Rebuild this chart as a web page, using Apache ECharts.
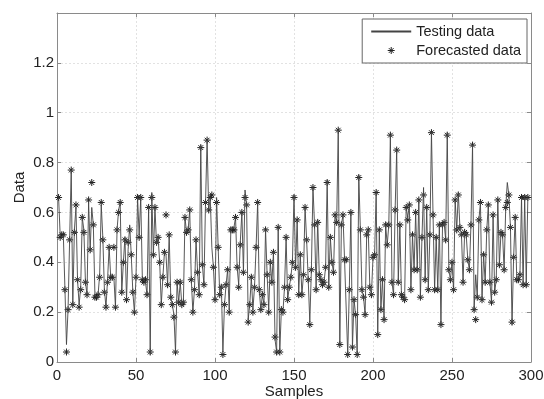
<!DOCTYPE html>
<html><head><meta charset="utf-8">
<script src="https://cdn.jsdelivr.net/npm/echarts@6/dist/echarts.min.js"></script>
<style>html,body{margin:0;padding:0;background:#fff}#c{width:544px;height:399px}</style>
</head><body><div id="c"></div>
<script>
const testing = [
0.66,0.51,0.50,0.51,0.30,0.07,0.21,0.49,0.77,0.23,
0.53,0.62,0.33,0.23,0.30,0.58,0.53,0.32,0.27,0.64,
0.45,0.62,0.55,0.27,0.26,0.27,0.35,0.63,0.50,0.29,
0.22,0.33,0.46,0.34,0.35,0.34,0.22,0.53,0.61,0.64,
0.28,0.40,0.50,0.25,0.45,0.55,0.43,0.28,0.20,0.34,
0.66,0.51,0.66,0.34,0.33,0.32,0.27,0.62,0.03,0.68,
0.43,0.62,0.47,0.50,0.40,0.23,0.34,0.44,0.43,0.31,
0.51,0.26,0.23,0.19,0.04,0.32,0.24,0.32,0.23,0.24,
0.58,0.52,0.53,0.61,0.33,0.20,0.29,0.49,0.36,0.27,
0.87,0.39,0.31,0.64,0.89,0.61,0.66,0.46,0.38,0.25,
0.66,0.46,0.27,0.31,0.04,0.23,0.31,0.37,0.21,0.53,
0.53,0.54,0.58,0.38,0.31,0.48,0.60,0.36,0.69,0.63,
0.17,0.23,0.34,0.21,0.30,0.46,0.64,0.29,0.21,0.27,
0.23,0.53,0.35,0.21,0.40,0.32,0.44,0.09,0.04,0.54,
0.04,0.21,0.20,0.30,0.50,0.25,0.30,0.34,0.40,0.67,
0.38,0.57,0.28,0.43,0.27,0.35,0.62,0.49,0.33,0.16,
0.37,0.70,0.55,0.29,0.57,0.35,0.33,0.31,0.32,0.38,
0.73,0.30,0.50,0.40,0.36,0.59,0.56,0.93,0.07,0.55,
0.59,0.41,0.41,0.03,0.29,0.60,0.06,0.25,0.19,0.03,
0.75,0.53,0.29,0.26,0.19,0.51,0.53,0.30,0.27,0.42,
0.43,0.68,0.11,0.53,0.21,0.33,0.17,0.55,0.47,0.55,
0.91,0.32,0.27,0.61,0.85,0.32,0.55,0.27,0.26,0.25,
0.62,0.58,0.63,0.29,0.51,0.37,0.60,0.37,0.65,0.26,
0.50,0.70,0.33,0.62,0.29,0.51,0.92,0.59,0.29,0.50,
0.29,0.55,0.15,0.55,0.56,0.49,0.92,0.37,0.33,0.40,
0.29,0.65,0.53,0.68,0.54,0.51,0.32,0.52,0.51,0.41,
0.37,0.55,0.87,0.21,0.35,0.26,0.57,0.64,0.25,0.43,
0.32,0.53,0.63,0.32,0.24,0.59,0.28,0.33,0.65,0.39,
0.52,0.51,0.37,0.62,0.72,0.67,0.54,0.15,0.42,0.58,
0.33,0.33,0.35,0.66,0.31,0.66,0.32,0.66
];
const forecasted = [
0.66,0.50,0.51,0.51,0.29,0.04,0.21,0.49,0.77,0.23,
0.52,0.63,0.33,0.22,0.29,0.58,0.52,0.32,0.27,0.65,
0.45,0.72,0.55,0.26,0.26,0.27,0.34,0.64,0.49,0.28,
0.22,0.32,0.46,0.34,0.34,0.46,0.22,0.53,0.60,0.64,
0.28,0.40,0.49,0.25,0.48,0.53,0.43,0.28,0.20,0.34,
0.66,0.50,0.66,0.33,0.32,0.33,0.27,0.62,0.04,0.66,
0.43,0.62,0.48,0.50,0.40,0.23,0.34,0.44,0.59,0.31,
0.51,0.26,0.23,0.18,0.04,0.32,0.24,0.32,0.23,0.24,
0.58,0.52,0.53,0.61,0.33,0.20,0.29,0.49,0.36,0.27,
0.86,0.39,0.31,0.64,0.89,0.61,0.66,0.67,0.38,0.25,
0.64,0.46,0.27,0.30,0.03,0.23,0.31,0.37,0.20,0.53,
0.53,0.53,0.58,0.38,0.30,0.47,0.60,0.36,0.66,0.63,
0.16,0.23,0.34,0.20,0.30,0.46,0.64,0.29,0.21,0.27,
0.23,0.53,0.35,0.20,0.40,0.32,0.44,0.10,0.04,0.54,
0.04,0.21,0.20,0.30,0.50,0.25,0.30,0.34,0.40,0.66,
0.38,0.57,0.27,0.43,0.27,0.35,0.62,0.49,0.33,0.15,
0.37,0.70,0.55,0.29,0.56,0.35,0.33,0.31,0.32,0.38,
0.72,0.30,0.50,0.40,0.36,0.59,0.56,0.93,0.07,0.55,
0.59,0.41,0.41,0.03,0.29,0.60,0.06,0.25,0.19,0.03,
0.74,0.53,0.29,0.26,0.19,0.51,0.53,0.30,0.27,0.42,
0.43,0.68,0.11,0.53,0.21,0.33,0.17,0.55,0.47,0.55,
0.91,0.32,0.27,0.61,0.85,0.32,0.55,0.27,0.26,0.25,
0.62,0.57,0.63,0.29,0.51,0.37,0.60,0.37,0.65,0.26,
0.50,0.67,0.33,0.62,0.29,0.51,0.92,0.59,0.29,0.50,
0.29,0.55,0.15,0.55,0.56,0.49,0.91,0.37,0.33,0.40,
0.29,0.65,0.53,0.67,0.54,0.51,0.32,0.52,0.51,0.41,
0.37,0.55,0.87,0.21,0.17,0.26,0.57,0.64,0.25,0.43,
0.32,0.53,0.63,0.32,0.24,0.59,0.28,0.33,0.65,0.39,
0.52,0.51,0.37,0.62,0.64,0.67,0.54,0.16,0.42,0.58,
0.33,0.33,0.35,0.66,0.31,0.66,0.31,0.66
];
const xTicks = [0, 50, 100, 150, 200, 250, 300];
const yTicks = [0, 0.2, 0.4, 0.6, 0.8, 1, 1.2];

const samples = testing.map((v, i) => i + 1);
const testPts = testing.map((v, i) => [samples[i], v]);
const fcPts = forecasted.map((v, i) => [samples[i], v]);

const star = 'path://M5 0L5 10M0 5L10 5M1.6 1.6L8.4 8.4M8.4 1.6L1.6 8.4';
const font = 'Liberation Sans, Arial, Helvetica, sans-serif';
const boxColor = '#8a8a8a';
const gridLine = {show: true, lineStyle: {color: '#e2e2e2', width: 1, type: [2, 2]}};

const chart = echarts.init(document.getElementById('c'), null, {renderer: 'canvas'});
chart.setOption({
  animation: false,
  backgroundColor: '#fff',
  textStyle: {fontFamily: font},
  grid: {left: 57, right: 13, top: 13, bottom: 37, containLabel: false, outerBoundsMode: 'none'},
  legend: {
    show: true,
    right: 17, top: 19, orient: 'vertical',
    backgroundColor: '#fff', borderColor: '#666', borderWidth: 1, borderRadius: 0,
    padding: [4, 6, 4, 8], itemGap: 2, itemWidth: 40, itemHeight: 7,
    textStyle: {fontFamily: font, fontSize: 14.5, color: '#222', lineHeight: 17},
    data: [
      {name: 'Testing data', itemStyle: {opacity: 0}},
      {name: 'Forecasted data', icon: star,
       itemStyle: {color: 'rgba(0,0,0,0)', borderColor: '#222', borderWidth: 1}}
    ]
  },
  xAxis: [{
    type: 'value', min: xTicks[0], max: xTicks[xTicks.length - 1], interval: 50,
    name: 'Samples', nameLocation: 'middle', nameGap: 22, nameMoveOverlap: false,
    nameTextStyle: {fontFamily: font, fontSize: 15, color: '#222'},
    axisLine: {show: true, onZero: false, lineStyle: {color: boxColor, width: 1}},
    axisTick: {show: true, inside: true, length: 4, lineStyle: {color: boxColor}},
    axisLabel: {fontFamily: font, fontSize: 15, color: '#222', margin: 6},
    splitLine: gridLine
  }, {
    type: 'value', position: 'top', min: xTicks[0], max: xTicks[xTicks.length - 1], interval: 50,
    axisLine: {show: true, onZero: false, lineStyle: {color: boxColor, width: 1}},
    axisTick: {show: true, inside: true, length: 4, lineStyle: {color: boxColor}},
    axisLabel: {show: false}, splitLine: {show: false}
  }],
  yAxis: [{
    type: 'value', min: 0, max: 1.4, interval: 0.2,
    name: 'Data', nameLocation: 'middle', nameGap: 30, nameMoveOverlap: false,
    nameTextStyle: {fontFamily: font, fontSize: 15, color: '#222'},
    axisLine: {show: true, onZero: false, lineStyle: {color: boxColor, width: 1}},
    axisTick: {show: true, inside: true, length: 4, lineStyle: {color: boxColor}},
    axisLabel: {fontFamily: font, fontSize: 15, color: '#222', margin: 3,
      formatter: v => { const t = yTicks.find(k => Math.abs(k - v) < 1e-9); return t === undefined ? '' : String(t); }},
    splitLine: gridLine
  }, {
    type: 'value', position: 'right', min: 0, max: 1.4, interval: 0.2,
    axisLine: {show: true, onZero: false, lineStyle: {color: boxColor, width: 1}},
    axisTick: {show: true, inside: true, length: 4, lineStyle: {color: boxColor}},
    axisLabel: {show: false}, splitLine: {show: false}
  }],
  series: [{
    name: 'Testing data', type: 'line', data: testPts, symbol: 'none',
    lineStyle: {color: '#444', width: 0.9}, itemStyle: {color: '#444'}
  }, {
    name: 'Forecasted data', type: 'scatter', data: fcPts, symbol: star, symbolSize: 7,
    itemStyle: {color: 'rgba(0,0,0,0)', borderColor: '#222', borderWidth: 1, opacity: 1}
  }]
});
</script></body></html>
